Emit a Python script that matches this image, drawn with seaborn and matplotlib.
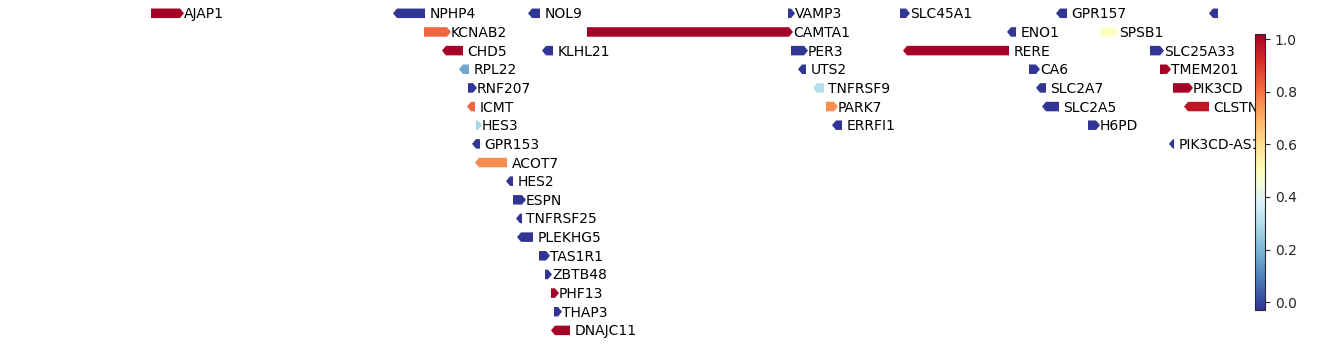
import numpy as np
import pandas as pd
import matplotlib
matplotlib.use("Agg")
import matplotlib.pyplot as plt
from matplotlib.patches import Polygon
from matplotlib.colors import Normalize
import matplotlib.colorbar as mcolorbar
import seaborn as sns

# ---- data (positions, arbitrary genomic units) ----
genes = ["AJAP1", "NPHP4", "NOL9", "VAMP3", "SLC45A1", "GPR157", "",
         "KCNAB2", "CAMTA1", "ENO1", "SPSB1",
         "CHD5", "KLHL21", "PER3", "RERE", "SLC25A33",
         "RPL22", "UTS2", "CA6", "TMEM201",
         "RNF207", "TNFRSF9", "SLC2A7", "PIK3CD",
         "ICMT", "PARK7", "SLC2A5", "CLSTN1",
         "HES3", "ERRFI1", "H6PD",
         "GPR153", "PIK3CD-AS1",
         "ACOT7", "HES2", "ESPN", "TNFRSF25", "PLEKHG5",
         "TAS1R1", "ZBTB48", "PHF13", "THAP3", "DNAJC11"]
starts = [151, 393, 528, 788, 900, 1056, 1209,
          424, 587, 1007, 1100,
          442, 542, 791, 903, 1150,
          459, 798, 1029, 1160,
          468, 813, 1036, 1173,
          467, 826, 1042, 1184,
          476, 832, 1088,
          472, 1169,
          475, 506, 513, 516, 517,
          539, 545, 551, 554, 551]
ends = [184, 425, 540, 795, 910, 1067, 1218,
        451, 793, 1016, 1119,
        463, 553, 808, 1009, 1164,
        469, 806, 1040, 1171,
        477, 824, 1046, 1193,
        475, 838, 1059, 1209,
        482, 842, 1100,
        480, 1174,
        507, 513, 526, 522, 533,
        550, 552, 559, 562, 570]
strands = ["+", "-", "-", "+", "+", "-", "-",
           "+", "+", "-", "+",
           "-", "-", "+", "-", "+",
           "-", "-", "+", "+",
           "+", "-", "-", "+",
           "-", "+", "-", "-",
           "+", "-", "+",
           "-", "-",
           "-", "-", "+", "-", "-",
           "+", "+", "+", "+", "-"]
values = [1.02, -0.03, -0.03, -0.03, -0.03, -0.03, -0.03,
          0.82, 1.02, -0.03, 0.49,
          1.02, -0.03, -0.03, 1.02, -0.03,
          0.17, -0.03, -0.03, 1.02,
          -0.03, 0.31, -0.03, 1.02,
          0.82, 0.76, -0.03, 0.97,
          0.28, -0.03, -0.03,
          -0.03, -0.03,
          0.76, -0.03, -0.03, -0.03, -0.03,
          -0.03, -0.03, 1.02, -0.03, 1.02]
rows = [0, 0, 0, 0, 0, 0, 0,
        1, 1, 1, 1,
        2, 2, 2, 2, 2,
        3, 3, 3, 3,
        4, 4, 4, 4,
        5, 5, 5, 5,
        6, 6, 6,
        7, 7,
        8, 9, 10, 11, 12,
        13, 14, 15, 16, 17]
cbar_ticks = [0.0, 0.2, 0.4, 0.6, 0.8, 1.0]

df = pd.DataFrame({"gene": genes, "start": starts, "end": ends,
                   "strand": strands, "value": values, "row": rows})

# ---- style ----
sns.set_style("white")
plt.rcParams["font.family"] = ["DejaVu Sans"]

cmap = sns.color_palette("RdYlBu_r", as_cmap=True)
norm = Normalize(vmin=df["value"].min(), vmax=df["value"].max())

fig = plt.figure(figsize=(13.38, 3.44), dpi=100)
ax = fig.add_axes([0, 0, 1, 1])
ax.set_xlim(0, 1338)
ax.set_ylim(17.73, -0.713)
ax.axis("off")

h = 0.51      # gene body height (rows)
head = 4.0    # arrow head length (x units)

for _, g in df.iterrows():
    s, e, y = g["start"], g["end"], g["row"]
    hl = min(head, e - s)
    col = cmap(norm(g["value"]))
    if g["strand"] == "+":
        pts = [(s, y - h / 2), (e - hl, y - h / 2), (e, y),
               (e - hl, y + h / 2), (s, y + h / 2)]
        dx = 0
    else:
        pts = [(e, y - h / 2), (s + hl, y - h / 2), (s, y),
               (s + hl, y + h / 2), (e, y + h / 2)]
        dx = 4.5
    ax.add_patch(Polygon(pts, closed=True, facecolor=col, edgecolor="none"))
    if g["gene"]:
        ax.annotate(g["gene"], xy=(e, y), xytext=(dx, -1),
                    textcoords="offset pixels", va="center", ha="left",
                    fontsize=10, color="black")

cax = fig.add_axes([1255 / 1338, (344 - 310) / 344, 10 / 1338, 276 / 344])
cb = mcolorbar.ColorbarBase(cax, cmap=cmap, norm=norm, orientation="vertical")
cb.set_ticks(cbar_ticks)
cb.set_ticklabels([f"{t:.1f}" for t in cbar_ticks])
cax.tick_params(labelsize=10, length=3.5, width=0.8, direction="out",
                right=True, left=False)
cb.outline.set_linewidth(0.8)

fig.savefig("out.png", dpi=100)
